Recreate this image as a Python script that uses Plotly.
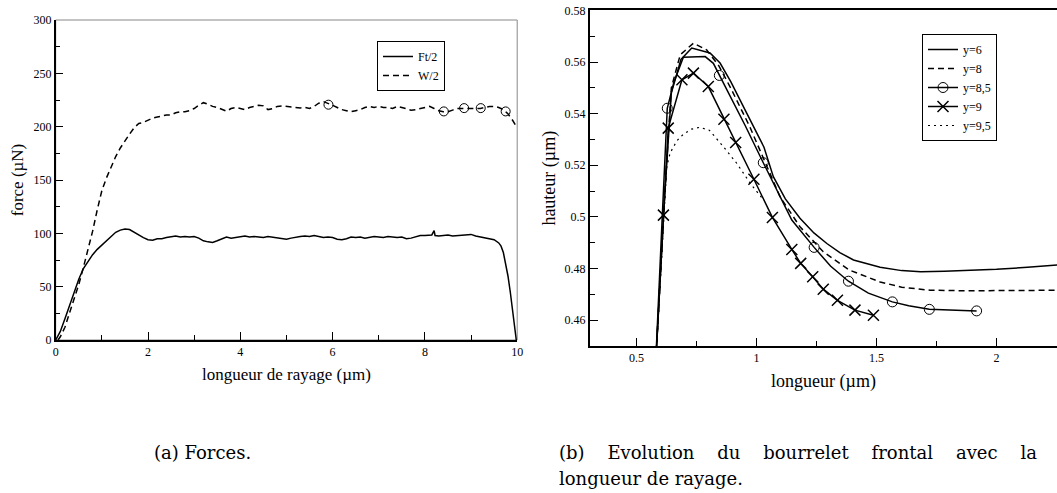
import plotly.graph_objects as go

# ---------------- Left panel data: forces ----------------
ft_x = [0, 0.1, 0.2, 0.3, 0.4, 0.5, 0.6, 0.7, 0.8, 0.9, 1.0, 1.1, 1.2, 1.3, 1.4, 1.5, 1.6, 1.7, 1.8, 1.9,
        2.0, 2.1, 2.2, 2.3, 2.4, 2.5, 2.6, 2.7, 2.8, 2.9, 3.0, 3.1, 3.2, 3.3, 3.4, 3.5, 3.6, 3.7, 3.8, 3.9,
        4.0, 4.1, 4.2, 4.3, 4.4, 4.5, 4.6, 4.7, 4.8, 4.9, 5.0, 5.1, 5.2, 5.3, 5.4, 5.5, 5.6, 5.7, 5.8, 5.9,
        6.0, 6.1, 6.2, 6.3, 6.4, 6.5, 6.6, 6.7, 6.8, 6.9, 7.0, 7.1, 7.2, 7.3, 7.4, 7.5, 7.6, 7.7, 7.8, 7.9,
        8.0, 8.1, 8.15, 8.2, 8.22, 8.3, 8.4, 8.5, 8.6, 8.7, 8.8, 8.9, 9.0, 9.1, 9.2, 9.3, 9.4, 9.5, 9.6,
        9.65, 9.7, 9.75, 9.8, 9.85, 9.9, 9.95, 9.98]
ft_y = [0, 8, 20, 33, 45, 57, 67, 74, 80, 85, 89, 93, 97, 101, 103, 104, 103.5, 101, 98, 96,
        94, 93.5, 95, 95, 96, 97, 97.5, 96.5, 97, 96.5, 97, 95.5, 93, 92, 91.5, 93, 94.5, 96.5, 95.5, 96,
        97, 97.5, 96.5, 97, 96.5, 96, 97, 96.5, 96, 95, 94.5, 95.5, 96.5, 97, 97.5, 97, 98, 97, 96, 96.5,
        96, 94.5, 94, 95, 96.5, 96, 96.5, 95.5, 96, 97, 96.5, 96, 97, 96.5, 96, 96.5, 95, 95.5, 96.5, 98,
        98, 98, 98.5, 102.5, 98, 97.5, 98, 98.5, 97.5, 98, 98.5, 99, 99, 97.5, 96.5, 96, 95, 94, 91,
        88, 82, 72, 60, 45, 28, 12, 0]

w_x = [0.05, 0.1, 0.2, 0.3, 0.4, 0.5, 0.6, 0.7, 0.8, 0.9, 1.0, 1.1, 1.2, 1.3, 1.4, 1.5, 1.6, 1.7, 1.8, 1.9,
       2.0, 2.1, 2.2, 2.3, 2.4, 2.5, 2.6, 2.7, 2.8, 2.9, 3.0, 3.1, 3.2, 3.3, 3.4, 3.5, 3.6, 3.7, 3.8, 3.9,
       4.0, 4.1, 4.2, 4.3, 4.4, 4.5, 4.6, 4.7, 4.8, 4.9, 5.0, 5.1, 5.2, 5.3, 5.4, 5.5, 5.6, 5.7, 5.8, 5.9,
       6.0, 6.1, 6.2, 6.3, 6.4, 6.5, 6.6, 6.7, 6.8, 6.9, 7.0, 7.1, 7.2, 7.3, 7.4, 7.5, 7.6, 7.7, 7.8, 7.9,
       8.0, 8.1, 8.2, 8.3, 8.4, 8.5, 8.6, 8.7, 8.8, 8.9, 9.0, 9.1, 9.2, 9.3, 9.4, 9.5, 9.6, 9.7, 9.8, 9.9, 10.0]
w_y = [0, 3, 12, 25, 38, 52, 68, 85, 102, 122, 140, 152, 162, 172, 180, 187, 193, 199, 203, 204,
       206, 208, 209, 210, 211, 211, 213, 214, 214, 215, 217, 220, 222.5, 221, 219, 218, 216, 214.5, 217, 218,
       217, 216, 218, 219, 220, 219.5, 216, 217, 219, 219.5, 219, 219, 218, 217.5, 218, 217, 219, 222, 223.5, 222,
       220, 218, 216, 215, 214, 215, 216, 218, 219, 218, 219, 218, 218, 217, 219, 218, 216.5, 215.5, 216, 217,
       218, 219, 217, 215, 214, 214, 215.5, 217, 217, 217, 217, 217.5, 217, 218, 219, 219, 218, 216, 212, 206, 199]

circ_x = [5.91, 8.41, 8.85, 9.21, 9.75]
circ_y = [220.6, 214.3, 217.4, 217.4, 214.3]

# ---------------- Right panel data: frontal bulge height ----------------
y6_x = [0.578, 0.615, 0.645, 0.685, 0.730, 0.806, 0.848, 0.892, 0.960, 1.031, 1.070, 1.120, 1.181, 1.239,
        1.293, 1.347, 1.404, 1.515, 1.605, 1.684, 1.783, 1.882, 2.0, 2.129, 2.277]
y6_y = [0.44, 0.505, 0.548, 0.561, 0.5654, 0.5635, 0.5596, 0.5525, 0.540, 0.527, 0.5156, 0.507, 0.4995, 0.4938,
        0.4897, 0.4862, 0.4833, 0.4805, 0.4792, 0.4788, 0.479, 0.4793, 0.4797, 0.4805, 0.4815]

y8_x = [0.578, 0.615, 0.645, 0.682, 0.737, 0.792, 0.843, 0.892, 0.972, 1.031, 1.098, 1.181, 1.278, 1.387,
        1.515, 1.605, 1.723, 1.882, 2.079, 2.277]
y8_y = [0.44, 0.505, 0.550, 0.5628, 0.5673, 0.5647, 0.5585, 0.550, 0.5349, 0.5225, 0.5078, 0.4962, 0.4865, 0.4794,
        0.4748, 0.4728, 0.4716, 0.4714, 0.4715, 0.4716]

# listed from the right end (last point carries a symbol)
y85_x = [1.917, 1.812, 1.720, 1.634, 1.566, 1.466, 1.383, 1.308, 1.240, 1.147, 1.090, 1.028, 0.952, 0.892,
         0.845, 0.820, 0.786, 0.695, 0.655, 0.628, 0.607, 0.578]
y85_y = [0.4636, 0.4638, 0.4642, 0.4656, 0.4671, 0.4705, 0.4751, 0.481, 0.4882, 0.4988, 0.5092, 0.521, 0.5355, 0.5465,
         0.5548, 0.5595, 0.5621, 0.5619, 0.552, 0.5421, 0.50, 0.44]
y85_mark = [1, 0, 1, 0, 1, 0, 1, 0, 1, 0, 0, 1, 0, 0, 1, 0, 0, 0, 0, 1, 0, 0]

y9_x = [1.487, 1.410, 1.337, 1.278, 1.234, 1.184, 1.147, 1.066, 0.989, 0.913, 0.864, 0.799, 0.737, 0.689,
        0.632, 0.612, 0.578]
y9_y = [0.4619, 0.4639, 0.4677, 0.472, 0.4768, 0.482, 0.4874, 0.4998, 0.5146, 0.5288, 0.5378, 0.5505, 0.5557, 0.5531,
        0.5344, 0.5007, 0.44]
y9_mark = [1] * 16 + [0]

y95_x = [0.578, 0.612, 0.626, 0.640, 0.668, 0.695, 0.729, 0.764, 0.803, 0.862, 0.918, 0.974, 1.021]
y95_y = [0.44, 0.4955, 0.5196, 0.5248, 0.5295, 0.532, 0.534, 0.5347, 0.5336, 0.5272, 0.5207, 0.513, 0.5075]

caption_a = "(a) Forces."
caption_b_words = ["(b)", "Evolution", "du", "bourrelet", "frontal", "avec", "la"]
caption_b_line2 = "longueur de rayage."

FONT = "Liberation Serif, Times New Roman, serif"
W, H = 1057, 493

def px(v):
    return v / W

def py(v):
    return 1 - v / H

fig = go.Figure()

# left panel traces
fig.add_trace(go.Scatter(x=ft_x, y=ft_y, mode="lines", name="Ft/2",
                         line=dict(color="black", width=1.5), xaxis="x", yaxis="y", legend="legend"))
fig.add_trace(go.Scatter(x=w_x, y=w_y, mode="lines", name="W/2",
                         line=dict(color="black", width=1.5, dash="6px,4px"), xaxis="x", yaxis="y", legend="legend"))
fig.add_trace(go.Scatter(x=circ_x, y=circ_y, mode="markers", showlegend=False,
                         marker=dict(symbol="circle-open", size=9, color="black", line=dict(width=1)),
                         xaxis="x", yaxis="y"))

# right panel traces
fig.add_trace(go.Scatter(x=y6_x, y=y6_y, mode="lines", name="y=6",
                         line=dict(color="black", width=1.5), xaxis="x2", yaxis="y2", legend="legend2"))
fig.add_trace(go.Scatter(x=y8_x, y=y8_y, mode="lines", name="y=8",
                         line=dict(color="black", width=1.5, dash="6px,4px"), xaxis="x2", yaxis="y2", legend="legend2"))
fig.add_trace(go.Scatter(x=y85_x, y=y85_y, mode="lines+markers", name="y=8,5",
                         line=dict(color="black", width=1.5),
                         marker=dict(symbol="circle-open", size=10,
                                     color=["black" if m else "rgba(0,0,0,0)" for m in y85_mark],
                                     line=dict(width=1)),
                         xaxis="x2", yaxis="y2", legend="legend2"))
fig.add_trace(go.Scatter(x=y9_x, y=y9_y, mode="lines+markers", name="y=9",
                         line=dict(color="black", width=1.5),
                         marker=dict(symbol="x-thin-open", size=11,
                                     color=["black" if m else "rgba(0,0,0,0)" for m in y9_mark],
                                     line=dict(width=1.5)),
                         xaxis="x2", yaxis="y2", legend="legend2"))
fig.add_trace(go.Scatter(x=y95_x, y=y95_y, mode="lines", name="y=9,5",
                         line=dict(color="black", width=1.2, dash="2px,4px"), xaxis="x2", yaxis="y2", legend="legend2"))

tickfont = dict(family=FONT, size=12, color="black")
titlefont = dict(family=FONT, size=17, color="black")

L_x0, L_x1, L_y0, L_y1 = 55.7, 517.2, 20, 340
R_x0, R_y0, R_y1 = 590, 10.4, 346

fig.update_layout(
    width=W, height=H, autosize=False,
    margin=dict(l=0, r=0, t=0, b=0, pad=0, autoexpand=False),
    paper_bgcolor="white", plot_bgcolor="white",
    font=dict(family=FONT, color="black"),
    xaxis=dict(domain=[px(L_x0), px(L_x1)], range=[0, 10], tick0=0, dtick=2, automargin=False,
               ticks="inside", ticklen=8, tickwidth=1, tickcolor="black",
               minor=dict(dtick=1, ticks="inside", ticklen=5, tickcolor="black"),
               showline=True, linecolor="black", linewidth=1.5, showgrid=False, zeroline=False,
               tickfont=tickfont, anchor="y",
               title=dict(text="longueur de rayage (µm)", font=titlefont, standoff=10)),
    yaxis=dict(domain=[py(L_y1), py(L_y0)], range=[0, 300], tick0=0, dtick=50, automargin=False,
               ticks="inside", ticklen=8, tickwidth=1, tickcolor="black",
               minor=dict(dtick=25, ticks="inside", ticklen=5, tickcolor="black"),
               showline=True, linecolor="black", linewidth=1.5, showgrid=False, zeroline=False,
               tickfont=tickfont, anchor="x",
               title=dict(text="force (µN)", font=titlefont, standoff=6)),
    xaxis2=dict(domain=[px(R_x0), 1.0], range=[0.306, 2.252], tick0=0.5, dtick=0.5, automargin=False,
                ticks="inside", ticklen=8, tickwidth=1, tickcolor="black",
                minor=dict(dtick=0.25, ticks="inside", ticklen=5, tickcolor="black"),
                showline=True, mirror=True, linecolor="black", linewidth=2, showgrid=False, zeroline=False,
                tickfont=tickfont, anchor="y2",
                title=dict(text="longueur (µm)", font=dict(family=FONT, size=18, color="black"), standoff=10)),
    yaxis2=dict(domain=[py(R_y1), py(R_y0)], range=[0.45, 0.58], tick0=0.46, dtick=0.02, automargin=False,
                ticks="inside", ticklen=8, tickwidth=1, tickcolor="black",
                minor=dict(dtick=0.01, ticks="inside", ticklen=5, tickcolor="black"),
                showline=True, linecolor="black", linewidth=2, showgrid=False, zeroline=False,
                tickfont=tickfont, anchor="x2",
                title=dict(text="hauteur (µm)", font=dict(family=FONT, size=18, color="black"), standoff=4)),
    legend=dict(x=px(377), y=py(41), xanchor="left", yanchor="top",
                bordercolor="black", borderwidth=1, bgcolor="white",
                font=dict(family=FONT, size=12, color="black"),
                tracegroupgap=0, itemwidth=30),
    legend2=dict(x=px(922), y=py(34), xanchor="left", yanchor="top",
                 bordercolor="black", borderwidth=1, bgcolor="white",
                 font=dict(family=FONT, size=12, color="black"),
                 tracegroupgap=0, itemwidth=30),
    shapes=[
        dict(type="rect", xref="x domain", yref="y domain", x0=0, x1=1, y0=0, y1=1,
             line=dict(color="#888888", width=1), layer="below"),
    ],
)

NB = "\u00a0"
GAP = NB * 4
cap_font = dict(family="DejaVu Serif, serif", size=18, color="black")
fig.add_annotation(xref="paper", yref="paper", x=px(152), y=py(452), xanchor="left", yanchor="middle",
                   text=caption_a, showarrow=False, font=cap_font)
fig.add_annotation(xref="paper", yref="paper", x=px(557), y=py(452), xanchor="left", yanchor="middle",
                   text=GAP.join(caption_b_words), showarrow=False, font=cap_font)
fig.add_annotation(xref="paper", yref="paper", x=px(557), y=py(478), xanchor="left", yanchor="middle",
                   text=caption_b_line2, showarrow=False, font=cap_font)

fig.write_html("out.html", config={"displayModeBar": False},
               post_script="document.body.style.margin='0';document.body.style.overflow='hidden';")
